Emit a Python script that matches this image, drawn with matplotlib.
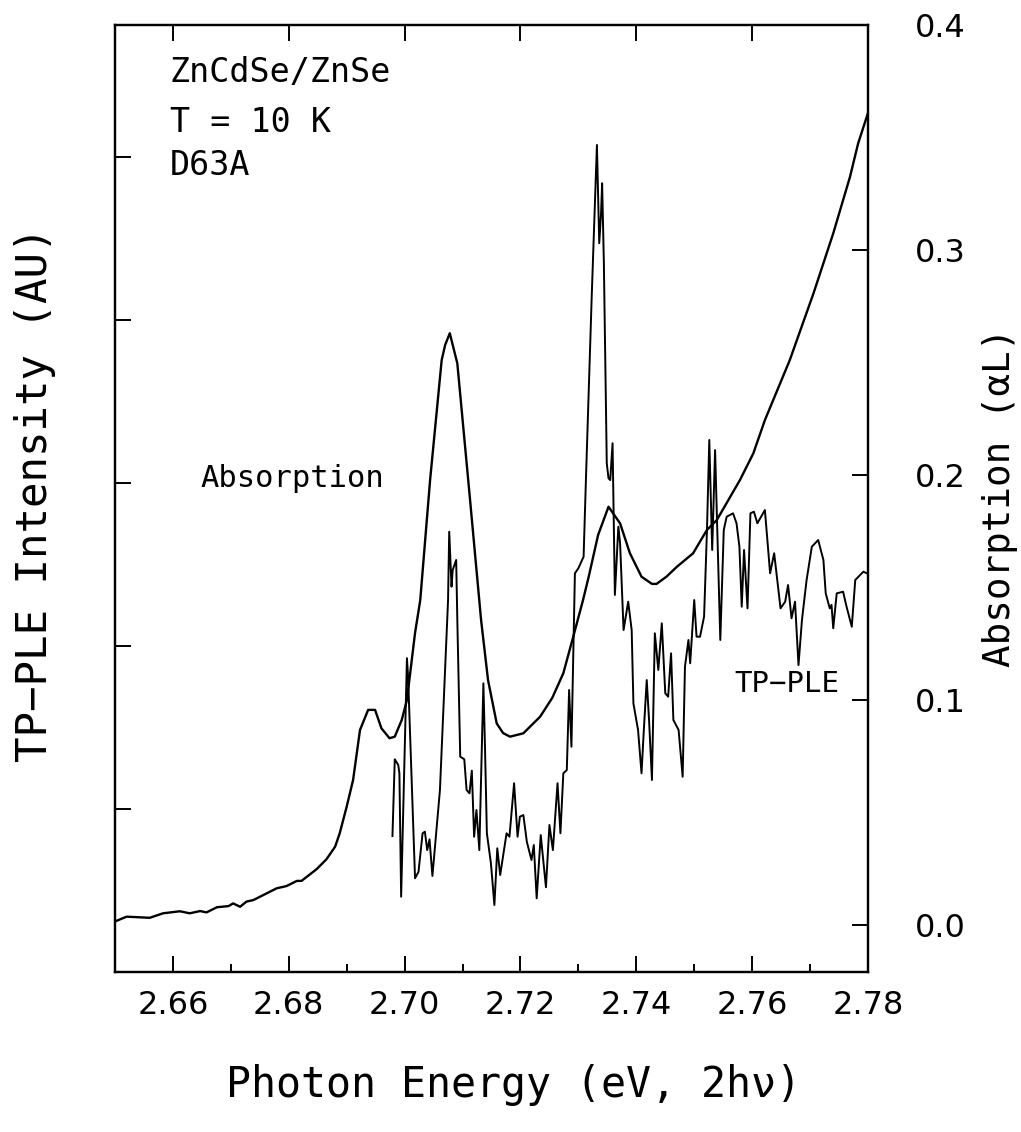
import matplotlib
matplotlib.use("Agg")
import matplotlib.pyplot as plt
from matplotlib.ticker import MultipleLocator, FixedLocator, NullFormatter, FormatStrFormatter

# Absorption (alpha L) spectrum, right axis
abs_energy = [2.6503, 2.6520, 2.6560, 2.6583, 2.6612, 2.6629, 2.6647, 2.6658, 2.6676, 2.6696,
              2.6704, 2.6716, 2.6727, 2.6739, 2.6756, 2.6779, 2.6796, 2.6814, 2.6822, 2.6848,
              2.6865, 2.6880, 2.6888, 2.6900, 2.6911, 2.6923, 2.6937, 2.6949, 2.6960, 2.6974,
              2.6983, 2.6995, 2.7004, 2.7018, 2.7027, 2.7044, 2.7064, 2.7070, 2.7078, 2.7091,
              2.7113, 2.7132, 2.7144, 2.7159, 2.7170, 2.7182, 2.7205, 2.7234, 2.7255, 2.7274,
              2.7291, 2.7308, 2.7318, 2.7334, 2.7352, 2.7372, 2.7389, 2.7409, 2.7427, 2.7435,
              2.7452, 2.7470, 2.7498, 2.7522, 2.7539, 2.7579, 2.7602, 2.7622, 2.7665, 2.7706,
              2.7740, 2.7769, 2.7783, 2.7800]
abs_value = [0.0019, 0.0037, 0.0032, 0.0052, 0.0061, 0.0052, 0.0062, 0.0056, 0.0079, 0.0084,
             0.0096, 0.0081, 0.0104, 0.0111, 0.0133, 0.0163, 0.0173, 0.0196, 0.0196, 0.0248,
             0.0292, 0.0348, 0.0408, 0.0526, 0.0644, 0.0867, 0.0956, 0.0956, 0.0874, 0.0830,
             0.0837, 0.0911, 0.1000, 0.1298, 0.1444, 0.1978, 0.2511, 0.2578, 0.2630, 0.2496,
             0.1889, 0.1356, 0.1089, 0.0896, 0.0853, 0.0837, 0.0852, 0.0926, 0.1010, 0.1119,
             0.1280, 0.1444, 0.1550, 0.1733, 0.1859, 0.1785, 0.1652, 0.1548, 0.1516, 0.1516,
             0.1548, 0.1592, 0.1652, 0.1756, 0.1800, 0.1978, 0.2096, 0.2244, 0.2511, 0.2808,
             0.3074, 0.3326, 0.3474, 0.3609]

# Two-photon PLE spectrum (arbitrary units), left axis
ple_energy = [2.6979, 2.6983, 2.6989, 2.6991, 2.6994, 2.7004, 2.7006, 2.7018, 2.7024, 2.7031,
              2.7035, 2.7039, 2.7043, 2.7048, 2.7061, 2.7075, 2.7077, 2.7081, 2.7083, 2.7089,
              2.7091, 2.7096, 2.7103, 2.7107, 2.7112, 2.7116, 2.7120, 2.7124, 2.7129, 2.7136,
              2.7139, 2.7142, 2.7149, 2.7155, 2.7160, 2.7165, 2.7176, 2.7181, 2.7189, 2.7195,
              2.7199, 2.7205, 2.7211, 2.7219, 2.7223, 2.7228, 2.7235, 2.7244, 2.7250, 2.7256,
              2.7264, 2.7269, 2.7274, 2.7280, 2.7284, 2.7288, 2.7294, 2.7300, 2.7309, 2.7313,
              2.7323, 2.7332, 2.7336, 2.7339, 2.7341, 2.7344, 2.7349, 2.7352, 2.7355, 2.7359,
              2.7363, 2.7369, 2.7372, 2.7378, 2.7386, 2.7392, 2.7395, 2.7403, 2.7409, 2.7413,
              2.7418, 2.7422, 2.7427, 2.7432, 2.7438, 2.7444, 2.7450, 2.7455, 2.7460, 2.7464,
              2.7473, 2.7480, 2.7484, 2.7490, 2.7493, 2.7500, 2.7504, 2.7510, 2.7517, 2.7522,
              2.7526, 2.7531, 2.7536, 2.7545, 2.7551, 2.7556, 2.7567, 2.7573, 2.7578, 2.7582,
              2.7586, 2.7592, 2.7597, 2.7603, 2.7609, 2.7622, 2.7631, 2.7638, 2.7649, 2.7657,
              2.7662, 2.7668, 2.7674, 2.7680, 2.7686, 2.7694, 2.7703, 2.7714, 2.7723, 2.7727,
              2.7734, 2.7737, 2.7740, 2.7746, 2.7757, 2.7763, 2.7772, 2.7778, 2.7792, 2.7798]
ple_value = [0.834, 1.305, 1.270, 1.219, 0.462, 1.925, 1.812, 0.575, 0.615, 0.851,
             0.861, 0.748, 0.814, 0.589, 1.117, 2.282, 2.701, 2.364, 2.466, 2.528,
             2.160, 1.321, 1.305, 1.117, 1.096, 1.235, 0.830, 0.994, 0.748, 1.771,
             1.342, 0.851, 0.667, 0.411, 0.759, 0.595, 0.851, 0.830, 1.158, 0.830,
             0.953, 0.963, 0.799, 0.687, 0.779, 0.452, 0.840, 0.520, 0.902, 0.748,
             1.158, 0.851, 1.219, 1.239, 1.730, 1.382, 2.446, 2.477, 2.548, 3.018,
             4.143, 5.074, 4.471, 4.644, 4.839, 4.348, 3.121, 3.029, 3.018, 3.244,
             2.313, 2.732, 2.630, 2.098, 2.272, 2.098, 1.648, 1.485, 1.219, 1.485,
             1.791, 1.546, 1.178, 2.078, 1.853, 2.139, 1.710, 1.689, 1.955, 1.546,
             1.485, 1.198, 1.873, 2.037, 1.894, 2.282, 2.057, 2.057, 2.180, 2.712,
             3.264, 2.589, 3.202, 2.037, 2.712, 2.793, 2.814, 2.753, 2.609, 2.241,
             2.589, 2.231, 2.814, 2.824, 2.753, 2.834, 2.446, 2.569, 2.231, 2.272,
             2.374, 2.170, 2.272, 1.883, 2.160, 2.405, 2.609, 2.650, 2.528, 2.323,
             2.231, 2.252, 2.109, 2.323, 2.333, 2.241, 2.118, 2.405, 2.456, 2.446]

x_major_ticks = [2.66, 2.68, 2.70, 2.72, 2.74, 2.76, 2.78]
right_ticks = [0.0, 0.1, 0.2, 0.3, 0.4]
left_ticks = [1, 2, 3, 4, 5]

MONO = "DejaVu Sans Mono"
SANS = "DejaVu Sans"

fig = plt.figure(figsize=(10.21, 11.32), dpi=100)
ax = fig.add_axes([115/1021, 1 - 972/1132, 753/1021, 947/1132])
ax2 = ax.twinx()

ax.plot(ple_energy, ple_value, color="black", lw=1.4)
ax2.plot(abs_energy, abs_value, color="black", lw=1.7)

ax.set_xlim(2.65, 2.78)
ax.set_ylim(0, 947/163)
ax2.set_ylim(-47/2250, 0.4)

# x axis
ax.xaxis.set_major_locator(FixedLocator(x_major_ticks))
ax.xaxis.set_minor_locator(MultipleLocator(0.01))
ax.xaxis.set_major_formatter(FormatStrFormatter("%.2f"))
ax.tick_params(axis="x", which="major", direction="in", length=11.5, width=1.4,
               top=True, bottom=True, pad=13, labelsize=23)
ax.tick_params(axis="x", which="minor", direction="in", length=6, width=1.4,
               top=False, bottom=True)
# left axis
ax.yaxis.set_major_locator(FixedLocator(left_ticks))
ax.yaxis.set_major_formatter(NullFormatter())
ax.tick_params(axis="y", which="major", direction="in", length=11.5, width=1.4,
               left=True, right=False)
# right axis
ax2.yaxis.set_major_locator(FixedLocator(right_ticks))
ax2.yaxis.set_major_formatter(FormatStrFormatter("%.1f"))
ax2.tick_params(axis="y", which="major", direction="in", length=11.5, width=1.4,
                right=True, left=False, pad=34, labelsize=23)

for lab in ax.get_xticklabels() + ax2.get_yticklabels():
    lab.set_fontfamily(SANS)

for a in (ax, ax2):
    for s in a.spines.values():
        s.set_linewidth(1.6)

# annotations
ax.text(0.073, 0.940, "ZnCdSe/ZnSe", transform=ax.transAxes, family=MONO, fontsize=24, va="baseline")
ax.text(0.073, 0.887, "T = 10 K", transform=ax.transAxes, family=MONO, fontsize=24, va="baseline")
ax.text(0.073, 0.842, "D63A", transform=ax.transAxes, family=MONO, fontsize=24, va="baseline")
ax.text(0.113, 0.512, "Absorption", transform=ax.transAxes, family=MONO, fontsize=22, va="baseline")
ax.text(0.823, 0.296, "TP\u2212PLE", transform=ax.transAxes, family=MONO, fontsize=21, va="baseline")

fig.text(0.034, 0.563, "TP\u2212PLE Intensity (AU)", rotation=90, family=MONO, fontsize=30.5,
         ha="center", va="center")
fig.text(0.979, 0.561, "Absorption (\u03b1L)", rotation=90, family=MONO, fontsize=27,
         ha="center", va="center")
fig.text(0.503, 0.0415, "Photon Energy (eV, 2h\u03bd)", family=MONO, fontsize=30,
         ha="center", va="center")

fig.savefig("out.png", dpi=100)
